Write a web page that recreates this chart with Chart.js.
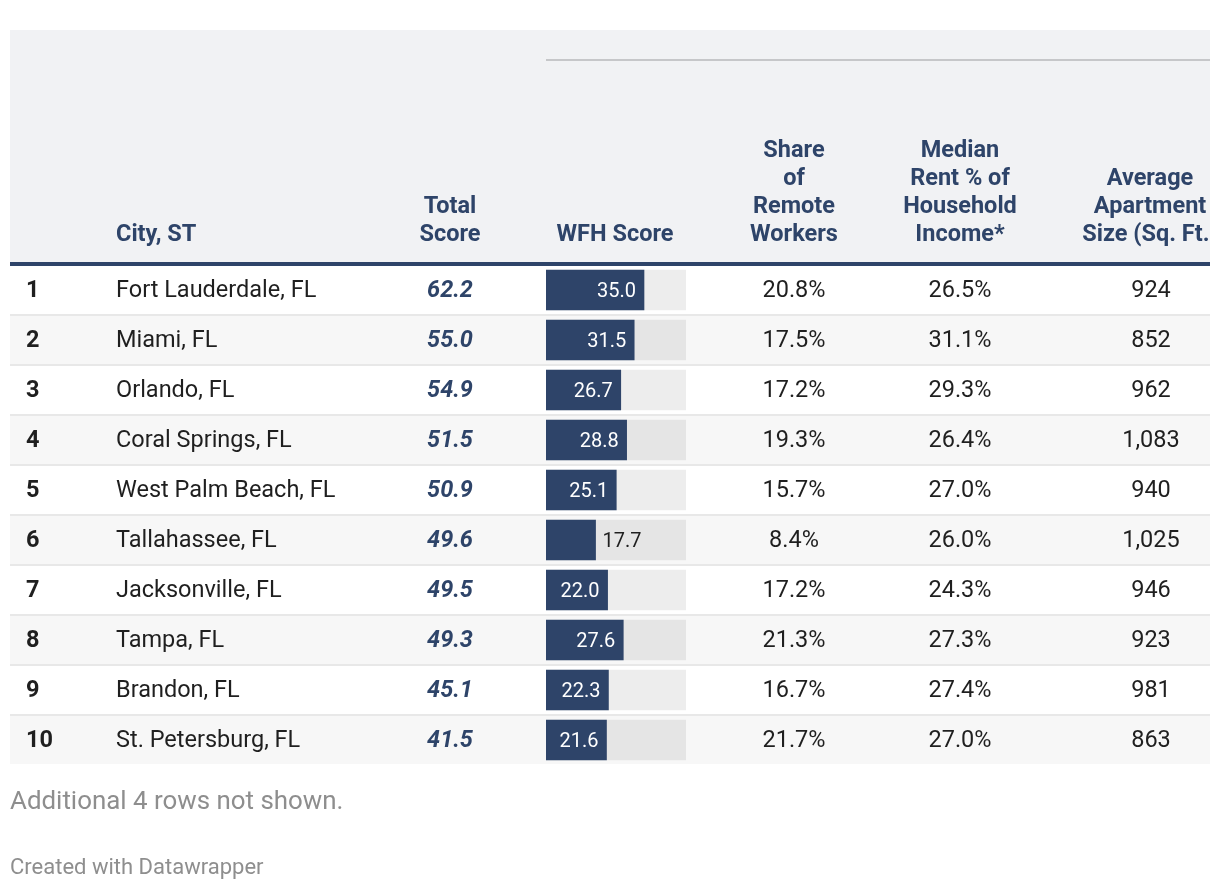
<!DOCTYPE html>
<html>
<head>
<meta charset="utf-8">
<script src="https://cdn.jsdelivr.net/npm/chart.js@4"></script>
<style>
html,body{margin:0;padding:0;background:#fff;}
canvas{display:block;}
</style>
</head>
<body>
<canvas id="c" width="1220" height="890"></canvas>
<script>
// ---- data ----
const ranks = ["1","2","3","4","5","6","7","8","9","10"];
const cities = ["Fort Lauderdale, FL","Miami, FL","Orlando, FL","Coral Springs, FL","West Palm Beach, FL","Tallahassee, FL","Jacksonville, FL","Tampa, FL","Brandon, FL","St. Petersburg, FL"];
const totalScore = [62.2, 55.0, 54.9, 51.5, 50.9, 49.6, 49.5, 49.3, 45.1, 41.5];
const wfhScore = [35.0, 31.5, 26.7, 28.8, 25.1, 17.7, 22.0, 27.6, 22.3, 21.6];
const remoteShare = ["20.8%","17.5%","17.2%","19.3%","15.7%","8.4%","17.2%","21.3%","16.7%","21.7%"];
const rentShare = ["26.5%","31.1%","29.3%","26.4%","27.0%","26.0%","24.3%","27.3%","27.4%","27.0%"];
const aptSize = ["924","852","962","1,083","940","1,025","946","923","981","863"];
const wfhMax = 50;
const headers = [
  ["City, ST"],
  ["Total","Score"],
  ["WFH Score"],
  ["Share","of","Remote","Workers"],
  ["Median","Rent % of","Household","Income*"],
  ["Average","Apartment","Size (Sq. Ft.)"]
];
const note = "Additional 4 rows not shown.";
const credit = "Created with Datawrapper";

// ---- style ----
const NAVY = "#2e4469";
const TEXT = "#1f1f1f";
const FONT = "Roboto, 'Noto Sans', sans-serif";
const FS = "23.5px ";

const tablePlugin = {
  id: "table",
  beforeDraw(chart) {
    const ctx = chart.ctx, y = chart.scales.y;
    ctx.save();
    ctx.fillStyle = "#ffffff";
    ctx.fillRect(0, 0, chart.width, chart.height);
    ctx.fillStyle = "#f1f2f4";
    ctx.fillRect(10, 30, 1200, 233);
    ctx.fillStyle = "#c6c7c9";
    ctx.fillRect(546, 59, 664, 2);
    cities.forEach((c, i) => {
      const cy = y.getPixelForValue(i);
      if (i % 2 === 1) {
        ctx.fillStyle = "#f7f7f7";
        ctx.fillRect(10, cy - 24, 1200, 48);
      }
      if (i < cities.length - 1) {
        ctx.fillStyle = "#e8e8e8";
        ctx.fillRect(10, cy + 24, 1200, 2);
      }
    });
    ctx.fillStyle = NAVY;
    ctx.fillRect(10, 262, 1200, 4);

    // headers
    ctx.fillStyle = NAVY;
    ctx.font = "bold " + FS + FONT;
    ctx.textBaseline = "alphabetic";
    const hx = [116, 450, 615, 794, 960, 1150];
    ctx.save();
    ctx.beginPath();
    ctx.rect(10, 30, 1200, 233);
    ctx.clip();
    headers.forEach((lines, k) => {
      ctx.textAlign = k === 0 ? "left" : "center";
      lines.forEach((t, j) => {
        ctx.fillText(t, hx[k], 240.5 - 28 * (lines.length - 1 - j));
      });
    });
    ctx.restore();

    // footer
    ctx.fillStyle = "#8e8e8e";
    ctx.textAlign = "left";
    ctx.font = "25.9px " + FONT;
    ctx.fillText(note, 10, 809);
    ctx.font = "22px " + FONT;
    ctx.fillText(credit, 10, 874);
    ctx.restore();
  },
  afterDatasetsDraw(chart) {
    const ctx = chart.ctx, y = chart.scales.y;
    const meta = chart.getDatasetMeta(0);
    ctx.save();
    ctx.textBaseline = "middle";
    cities.forEach((c, i) => {
      const cy = y.getPixelForValue(i) + 1.5;
      ctx.fillStyle = TEXT;
      ctx.font = "bold " + FS + FONT;
      ctx.textAlign = "left";
      ctx.fillText(ranks[i], 26, cy);
      ctx.font = FS + FONT;
      ctx.fillText(c, 116, cy);
      ctx.textAlign = "center";
      ctx.fillText(remoteShare[i], 794, cy);
      ctx.fillText(rentShare[i], 960, cy);
      ctx.fillText(aptSize[i], 1151, cy);
      ctx.fillStyle = NAVY;
      ctx.font = "italic bold " + FS + FONT;
      ctx.fillText(totalScore[i].toFixed(1), 450, cy);

      // bar value label
      const bar = meta.data[i];
      const lbl = wfhScore[i].toFixed(1);
      ctx.font = "20px " + FONT;
      const w = ctx.measureText(lbl).width;
      const barW = bar.x - bar.base;
      if (w + 16 <= barW) {
        ctx.fillStyle = "#ffffff";
        ctx.textAlign = "right";
        ctx.fillText(lbl, bar.x - 8, cy);
      } else {
        ctx.fillStyle = TEXT;
        ctx.textAlign = "left";
        ctx.fillText(lbl, bar.x + 7, cy);
      }
    });
    ctx.restore();
  }
};

new Chart(document.getElementById("c"), {
  type: "bar",
  data: {
    labels: cities,
    datasets: [
      { data: wfhScore, backgroundColor: NAVY, order: 0, barThickness: 40, grouped: false, borderWidth: 0 },
      { data: cities.map(() => wfhMax), backgroundColor: "rgba(0,0,0,0.07)", order: 1, barThickness: 40, grouped: false, borderWidth: 0 }
    ]
  },
  options: {
    indexAxis: "y",
    responsive: false,
    animation: false,
    events: [],
    layout: { padding: { left: 546, right: 534, top: 265, bottom: 125 } },
    scales: {
      x: { display: false, min: 0, max: wfhMax },
      y: { display: false }
    },
    plugins: { legend: { display: false }, tooltip: { enabled: false } }
  },
  plugins: [tablePlugin]
});
</script>
</body>
</html>
